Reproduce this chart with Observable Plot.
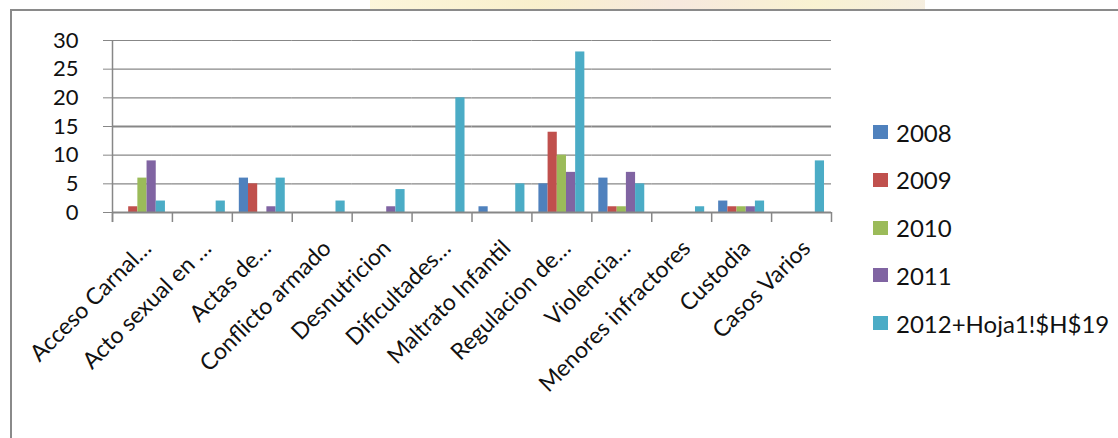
<!DOCTYPE html>
<html>
<head>
<meta charset="utf-8">
<script src="https://cdn.jsdelivr.net/npm/d3@7"></script>
<script src="https://cdn.jsdelivr.net/npm/@observablehq/plot@0.6"></script>
<style>
  html, body { margin: 0; padding: 0; background: #fff; }
  #wrap { position: relative; width: 1118px; height: 438px; overflow: hidden; font-family: Lato, "Open Sans", sans-serif; }
  #bleed { position: absolute; left: 370px; top: 0; width: 555px; height: 9px; background: linear-gradient(90deg, #fbf3d2, #f7ecc0 30%, #f5e3d6 55%, #f7efc6 80%, #f3ead8); opacity: 0.8; }
  #frame { position: absolute; left: 10px; top: 9px; width: 1200px; height: 500px; border-top: 2px solid #8a8a8a; border-left: 2px solid #8a8a8a; }
  #chart { position: absolute; left: 0; top: 0; }
  .lg { position: absolute; left: 873px; height: 24px; display: flex; align-items: center; font-size: 24px; color: #111; white-space: nowrap; }
  .lg i { display: inline-block; width: 15px; height: 14px; margin-right: 8px; }
</style>
</head>
<body>
<div id="wrap">
  <div id="bleed"></div>
  <div id="frame"></div>
  <div id="chart"></div>
</div>
<script>
const categories = ["Acceso Carnal…", "Acto sexual en …", "Actas de…", "Conflicto armado", "Desnutricion", "Dificultades…", "Maltrato Infantil", "Regulacion de…", "Violencia…", "Menores infractores", "Custodia", "Casos Varios"];
const years = ["2008", "2009", "2010", "2011", "2012"];
const legendLabels = ["2008", "2009", "2010", "2011", "2012+Hoja1!$H$19"];
const v2008 = [0, 0, 6, 0, 0, 0, 1, 5, 6, 0, 2, 0];
const v2009 = [1, 0, 5, 0, 0, 0, 0, 14, 1, 0, 1, 0];
const v2010 = [6, 0, 0, 0, 0, 0, 0, 10, 1, 0, 1, 0];
const v2011 = [9, 0, 1, 0, 1, 0, 0, 7, 7, 0, 1, 0];
const v2012 = [2, 2, 6, 2, 4, 20, 5, 28, 5, 1, 2, 9];
const yTicks = [0, 5, 10, 15, 20, 25, 30];
const colors = ["#4F81BD", "#C0504D", "#9BBB59", "#8064A2", "#4BACC6"];

const series = [v2008, v2009, v2010, v2011, v2012];
const data = [];
categories.forEach((c, i) => years.forEach((y, k) => data.push({cat: c, year: y, value: series[k][i]})));

const grid = "#878787";
const plotLeft = 112, plotRight = 831;
const facetW = (plotRight - plotLeft) / categories.length;
const half = facetW / 2;
const outerPad = 0.76;
// mirror of the inner x band scale, to find the first band's centre
const xs = d3.scaleBand(years, [0, facetW]).paddingInner(0).paddingOuter(outerPad);
const firstCenter = xs(years[0]) + xs.bandwidth() / 2;

const chart = Plot.plot({
  width: 1118,
  height: 438,
  marginLeft: plotLeft,
  marginRight: 1118 - plotRight,
  marginTop: 40,
  marginBottom: 226,
  style: {fontFamily: "Lato, 'Open Sans', sans-serif", background: "transparent", color: "#111"},
  fx: {domain: categories, padding: 0, round: false, label: null},
  x: {domain: years, paddingInner: 0, paddingOuter: outerPad, round: false, axis: null},
  y: {domain: [0, 30], label: null},
  color: {domain: years, range: colors},
  marks: [
    Plot.ruleY(yTicks, {stroke: grid, strokeWidth: d => (d === 15 ? 2 : 1.2)}),
    Plot.barY(data, {fx: "cat", x: "year", y: "value", fill: "year", inset: 0}),
    Plot.ruleY([0], {stroke: grid, strokeWidth: 2}),
    Plot.axisFx({anchor: "bottom", tickSize: 10, text: null, dx: -half, stroke: grid, strokeWidth: 1.5, label: null}),
    Plot.axisFx({anchor: "bottom", ticks: categories.slice(-1), tickSize: 10, text: null, dx: half, stroke: grid, strokeWidth: 1.5, label: null}),
    Plot.ruleX(categories.slice(0, 1), {fx: d => d, x: () => years[0], y1: -1.75, y2: 30, dx: -firstCenter, stroke: grid, strokeWidth: 1.5}),
    Plot.axisY({ticks: yTicks, tickSize: 9, tickPadding: 25, fontSize: 22, stroke: grid, label: null}),
    Plot.axisFx({anchor: "bottom", tickSize: 0, tickRotate: -45, fontSize: 23, tickPadding: 32, dx: 5, label: null})
  ]
});
document.getElementById("chart").appendChild(chart);

const wrap = document.getElementById("wrap");
legendLabels.forEach((t, k) => {
  const d = document.createElement("div");
  d.className = "lg";
  d.style.top = (120 + k * 47.8) + "px";
  const sw = document.createElement("i");
  sw.style.background = colors[k];
  d.appendChild(sw);
  d.appendChild(document.createTextNode(t));
  wrap.appendChild(d);
});
</script>
</body>
</html>
